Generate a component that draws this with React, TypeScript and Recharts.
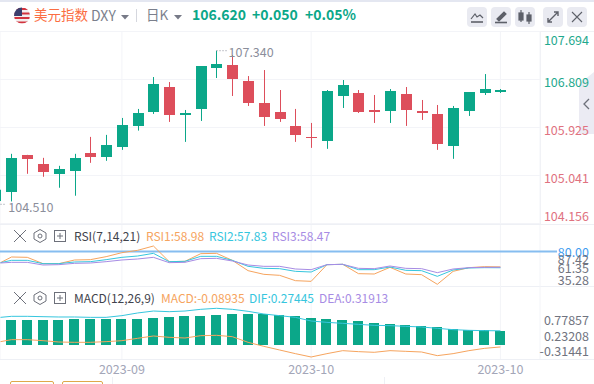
import {
  Bar,
  CartesianGrid,
  ComposedChart,
  Line,
  ReferenceDot,
  ReferenceLine,
  XAxis,
  YAxis,
} from "recharts";

const FONT = '"Noto Sans CJK SC", "Noto Sans", sans-serif';
const GREEN = "#0ba789";
const RED = "#dd4e5b";
const ORANGE = "#f6a45e";
const CYAN = "#36c6de";
const PURPLE = "#a78ce4";
const GRID = "#f3f4f8";

// first row is the candle cut off by the left edge, only its wick shows
const candleX = [-0.697, 0, 1, 2, 3, 4, 5, 6, 7, 8, 9, 10, 11, 12, 13, 14, 15, 16, 17, 18, 19, 20, 21, 22, 23, 24, 25, 26, 27, 28, 29, 30, 31];
const opens = [104.778, 104.728, 105.421, 105.256, 105.072, 105.127, 105.458, 105.385, 105.568, 105.954, 106.212, 106.671, 106.157, 106.267, 107.02, 107.076, 106.781, 106.377, 106.212, 105.954, 105.752, 105.679, 106.506, 106.561, 106.248, 106.23, 106.542, 106.23, 106.175, 105.587, 106.23, 106.561, 106.57];
const closes = [104.778, 105.366, 105.348, 105.109, 105.164, 105.366, 105.385, 105.605, 105.973, 106.193, 106.726, 106.157, 106.193, 107.057, 107.094, 106.818, 106.377, 106.12, 106.083, 105.789, 105.734, 106.598, 106.708, 106.212, 106.212, 106.598, 106.248, 106.193, 105.623, 106.285, 106.579, 106.634, 106.62];
const highs = [104.778, 105.44, 105.421, 105.366, 105.219, 105.44, 105.752, 105.789, 106.101, 106.267, 106.855, 106.763, 106.248, 107.057, 107.34, 107.259, 106.873, 106.984, 106.616, 106.267, 106.009, 106.616, 106.8, 106.616, 106.524, 106.634, 106.671, 106.432, 106.34, 106.322, 106.579, 106.91, 106.634];
const lows = [104.57, 104.563, 105.072, 105.017, 104.815, 104.668, 105.274, 105.311, 105.513, 105.868, 106.175, 106.028, 105.66, 106.046, 106.837, 106.506, 106.322, 105.954, 106.028, 105.66, 105.55, 105.532, 106.285, 106.193, 106.009, 106.009, 105.954, 106.065, 105.513, 105.348, 106.138, 106.524, 106.561];

const rsi1 = [64.74, 72.45, 72.0, 63.38, 63.38, 68.37, 68.82, 72.9, 78.35, 81.53, 87.42, 66.1, 66.56, 76.99, 77.44, 67.91, 53.85, 48.86, 47.5, 40.24, 39.33, 62.02, 62.47, 49.77, 49.31, 58.39, 49.31, 48.4, 35.28, 52.94, 57.93, 59.3, 58.98];
const rsi2 = [64.74, 67.91, 67.91, 63.38, 63.38, 65.65, 66.1, 68.82, 72.0, 73.81, 77.44, 66.1, 66.56, 73.36, 73.36, 67.91, 59.75, 57.03, 56.57, 52.94, 52.03, 62.02, 62.47, 55.21, 55.21, 58.84, 54.31, 53.85, 46.14, 54.76, 57.48, 57.93, 57.83];
const rsi3 = [64.28, 65.19, 65.19, 61.56, 62.02, 63.83, 64.28, 66.1, 68.37, 69.73, 72.0, 64.74, 65.19, 70.18, 70.64, 67.01, 61.56, 59.75, 59.75, 56.12, 55.21, 62.02, 62.47, 57.03, 56.57, 60.2, 57.03, 56.57, 51.13, 56.12, 57.93, 58.39, 58.47];

const macdBars = [null, 0.516, 0.516, 0.516, 0.516, 0.538, 0.538, 0.538, 0.538, 0.538, 0.561, 0.583, 0.605, 0.605, 0.628, 0.65, 0.65, 0.65, 0.628, 0.605, 0.561, 0.538, 0.516, 0.493, 0.448, 0.426, 0.404, 0.381, 0.359, 0.314, 0.291, 0.291, 0.269];
const macdBase = -0.045;
const dif = [0.575, 0.598, 0.598, 0.59, 0.583, 0.583, 0.575, 0.575, 0.613, 0.673, 0.717, 0.702, 0.717, 0.755, 0.778, 0.755, 0.71, 0.65, 0.613, 0.575, 0.493, 0.463, 0.441, 0.418, 0.396, 0.389, 0.374, 0.359, 0.329, 0.299, 0.284, 0.276, 0.274];
const macdLine = [0.03, 0.075, 0.075, 0.052, 0.022, 0.015, 0.015, 0.03, 0.052, 0.105, 0.157, 0.127, 0.112, 0.164, 0.172, 0.142, 0.015, -0.075, -0.157, -0.239, -0.314, -0.239, -0.172, -0.194, -0.209, -0.172, -0.187, -0.202, -0.284, -0.239, -0.172, -0.12, -0.089];

const dateTicks = [7, 19, 31];
const dateLabels = ["2023-09", "2023-10", "2023-10"];
const priceTicks = [107.694, 106.809, 105.925, 105.041, 104.156];
const rsiTicks = [80, 87.42, 61.35, 35.28];
const macdTicks = [0.77857, 0.23208, -0.31441];

const xDomain = [-0.729, 33.51];
const priceDomain = [104.156, 107.694];
const rsiDomain = [32.98, 116];
const macdDomain = [-0.359, 1.278];

const candles = candleX.map((x, i) => ({
  x,
  open: opens[i],
  close: closes[i],
  range: [lows[i], highs[i]],
}));
const rsiRows = candleX.map((x, i) => ({ x, r1: rsi1[i], r2: rsi2[i], r3: rsi3[i] }));
const macdRows = candleX.map((x, i) => ({
  x,
  dif: dif[i],
  macd: macdLine[i],
  bar: macdBars[i] == null ? null : [macdBase, macdBars[i]],
}));

function CandleShape(props: any) {
  const { x, y, width, height, payload } = props;
  const [low, high] = payload.range;
  const toY = (v: number) => y + ((high - v) / (high - low)) * height;
  const up = payload.close >= payload.open;
  const color = up ? GREEN : RED;
  const center = x + width / 2;
  const top = Math.round(toY(Math.max(payload.open, payload.close)));
  const bottom = Math.round(toY(Math.min(payload.open, payload.close)));
  return (
    <g>
      <rect x={Math.floor(center)} y={y} width={1} height={height} fill={color} />
      {payload.open !== payload.close && (
        <rect x={Math.round(center - 5.5)} y={top} width={11} height={Math.max(1, bottom - top)} fill={color} />
      )}
    </g>
  );
}

function MacdBarShape(props: any) {
  const { x, y, width, height } = props;
  if (!height) return null;
  return (
    <rect
      x={Math.round(x + width / 2 - 5)}
      y={Math.round(y)}
      width={10}
      height={Math.round(y + height) - Math.round(y)}
      fill={GREEN}
    />
  );
}

// axis labels sit away from their true level in the original, so each tick carries a nudge
const makeTick = (ticks: number[], shifts: number[], colors: string[], digits: number) =>
  function AxisTick(props: any) {
    const i = ticks.indexOf(props.payload.value);
    return (
      <text
        x={589}
        y={props.y + shifts[i]}
        textAnchor="end"
        dominantBaseline="central"
        fontSize={12.5}
        fontFamily={FONT}
        fill={colors[i]}
      >
        {props.payload.value.toFixed(digits)}
      </text>
    );
  };

const PriceTick = makeTick(priceTicks, [8, 1.5, 1.8, 2, -8.5], ["#1fa98e", "#1fa98e", "#e0727f", "#e0727f", "#e0727f"], 3);
const RsiTick = makeTick(rsiTicks, [0, 13, 2.5, -5], ["#3f9df0", "#71747f", "#71747f", "#71747f"], 2);
const MacdTick = makeTick(macdTicks, [11.7, 3.1, -6.3], ["#71747f", "#71747f", "#71747f"], 5);

function DateTick(props: any) {
  const i = dateTicks.indexOf(props.payload.value);
  return (
    <text x={props.x} y={82} textAnchor="middle" dominantBaseline="central" fontSize={12.5} fontFamily={FONT} fill="#a3a6b8">
      {dateLabels[i]}
    </text>
  );
}

const extremeLabel = (text: string, dx: number, dy: number) =>
  function ExtremeLabel(props: any) {
    const { x, y } = props.viewBox;
    return (
      <text x={x + dx} y={y + dy} dominantBaseline="central" fontSize={12.5} fontFamily={FONT} fill="#8b8e9b">
        {text}
      </text>
    );
  };

function Txt({ x, y, color, size = 12, weight = 400, children }: any) {
  return (
    <div
      style={{
        position: "absolute",
        left: x,
        top: y - 10,
        height: 20,
        lineHeight: "20px",
        fontSize: size,
        fontWeight: weight,
        color,
        whiteSpace: "nowrap",
      }}
    >
      {children}
    </div>
  );
}

function Rule({ y, color = "#eef0f5" }: { y: number; color?: string }) {
  return <div style={{ position: "absolute", left: 0, top: y, width: 594, height: 1, background: color }} />;
}

function Caret({ x, y }: { x: number; y: number }) {
  return (
    <svg style={{ position: "absolute", left: x, top: y }} width={8} height={5}>
      <path d="M0 0H8L4 4.5Z" fill="#777a87" />
    </svg>
  );
}

function Flag() {
  return (
    <svg style={{ position: "absolute", left: 14, top: 7 }} width={16} height={17} viewBox="0 0 16 17">
      <defs>
        <clipPath id="flag">
          <circle cx={8} cy={8.5} r={8} />
        </clipPath>
      </defs>
      <g clipPath="url(#flag)">
        <rect width={16} height={17} fill="#f3eeee" />
        {[0, 4.5, 9, 13.5].map((y) => (
          <rect key={y} y={y + 1} width={16} height={2} fill="#d2343f" />
        ))}
        <rect width={8} height={9} fill="#3b3f6e" />
      </g>
    </svg>
  );
}

function ToolIcon({ x, kind }: { x: number; kind: string }) {
  return (
    <div style={{ position: "absolute", left: x, top: 7, width: 20, height: 20, borderRadius: 4, background: "#e9eaf1" }}>
      <svg width={20} height={20} fill="none" stroke="#5d6069" strokeWidth={1.2}>
        {kind === "line" && (
          <>
            <path d="M4 12L8 7L10 10L13 8L16 11" />
            <path d="M4 15H16" strokeWidth={1.6} />
          </>
        )}
        {kind === "pen" && (
          <>
            <path d="M6 12L13 5L15 7L8 14Z" fill="#5d6069" />
            <path d="M4 15.5H16" strokeWidth={1.6} />
          </>
        )}
        {kind === "candle" && (
          <>
            <rect x={4} y={6} width={4} height={7} fill="#5d6069" />
            <path d="M6 3V15" />
            <rect x={12} y={8} width={4} height={6} fill="#5d6069" />
            <path d="M14 5V17" />
          </>
        )}
        {kind === "expand" && (
          <path d="M5 15L15 5M11 5H15V9M5 11V15H9" strokeWidth={1.4} />
        )}
        {kind === "close" && <path d="M5 5L15 15M15 5L5 15" strokeWidth={1.1} />}
      </svg>
    </div>
  );
}

function PanelIcons({ y }: { y: number }) {
  return (
    <svg style={{ position: "absolute", left: 12, top: y - 8 }} width={56} height={16} fill="none" stroke="#6d707a" strokeWidth={1}>
      <path d="M2 2L14 14M14 2L2 14" />
      <path d="M28 1.5L34 5V11L28 14.5L22 11V5Z" />
      <circle cx={28} cy={8} r={2} />
      <rect x={42.5} y={2.5} width={11} height={11} />
      <path d="M48 5V11M45 8H51" />
    </svg>
  );
}

export default function App() {
  return (
    <div style={{ position: "absolute", left: 0, top: 0, width: 594, height: 384, overflow: "hidden", background: "#fff", fontFamily: FONT }}>
      <div style={{ position: "absolute", left: 0, top: 0, width: 594, height: 2, background: "#e4e7f1" }} />
      <Rule y={31} color="#f0f1f5" />
      <Rule y={224} />
      <Rule y={286} />
      <Rule y={359} />
      <div style={{ position: "absolute", left: 540, top: 32, width: 1, height: 192, background: "#eef0f5" }} />
      <svg style={{ position: "absolute", left: 579, top: 72 }} width={15} height={63}>
        <path d="M0 12L15 0V62H0Z" fill="#ebebf3" />
        <path d="M10 27L5 32L10 37" fill="none" stroke="#6d707a" strokeWidth={1.3} />
      </svg>

      <div style={{ position: "absolute", left: 0, top: 0 }}>
        <ComposedChart width={594} height={224} data={candles} margin={{ top: 31.5, right: 0, bottom: 0.5, left: 0 }}>
          <CartesianGrid stroke={GRID} />
          <XAxis dataKey="x" type="number" domain={xDomain} ticks={dateTicks} hide />
          <YAxis orientation="right" width={54} domain={priceDomain} ticks={priceTicks} interval={0} axisLine={false} tickLine={false} tick={PriceTick} />
          <Bar dataKey="range" barSize={11} isAnimationActive={false} shape={CandleShape} />
          <ReferenceLine segment={[{ x: 13, y: 107.34 }, { x: 13.7, y: 107.34 }]} stroke="#8b8e9b" strokeDasharray="1 2" />
          <ReferenceDot x={13.7} y={107.34} r={0} label={extremeLabel("107.340", 1, 0.5)} />
          <ReferenceLine segment={[{ x: -0.697, y: 104.51 }, { x: -0.33, y: 104.51 }]} stroke="#8b8e9b" strokeDasharray="1 2" />
          <ReferenceDot x={-0.33} y={104.51} r={0} label={extremeLabel("104.510", 2, 2)} />
        </ComposedChart>
      </div>

      <div style={{ position: "absolute", left: 0, top: 224 }}>
        <ComposedChart width={594} height={72} data={rsiRows} margin={{ top: 1, right: 0, bottom: 10, left: 0 }}>
          <CartesianGrid stroke={GRID} horizontal={false} />
          <XAxis dataKey="x" type="number" domain={xDomain} ticks={dateTicks} hide />
          <YAxis orientation="right" width={54} domain={rsiDomain} ticks={rsiTicks} interval={0} axisLine={false} tickLine={false} tick={RsiTick} />
          <ReferenceLine segment={[{ x: -0.729, y: 80 }, { x: 34.59, y: 80 }]} stroke="#86bdf0" strokeWidth={2} ifOverflow="visible" />
          <Line dataKey="r1" stroke={ORANGE} strokeWidth={1} dot={false} isAnimationActive={false} />
          <Line dataKey="r2" stroke={CYAN} strokeWidth={1} dot={false} isAnimationActive={false} />
          <Line dataKey="r3" stroke={PURPLE} strokeWidth={1} dot={false} isAnimationActive={false} />
        </ComposedChart>
      </div>

      <div style={{ position: "absolute", left: 0, top: 286 }}>
        <ComposedChart width={594} height={98} data={macdRows} margin={{ top: 0, right: 0, bottom: 0, left: 0 }}>
          <CartesianGrid stroke={GRID} horizontal={false} />
          <XAxis dataKey="x" type="number" domain={xDomain} ticks={dateTicks} height={25} axisLine={false} tickLine={false} tick={DateTick} interval={0} />
          <YAxis orientation="right" width={54} domain={macdDomain} ticks={macdTicks} interval={0} axisLine={false} tickLine={false} tick={MacdTick} />
          <Line dataKey="dif" stroke={CYAN} strokeWidth={1} dot={false} isAnimationActive={false} />
          <Line dataKey="macd" stroke={ORANGE} strokeWidth={1} dot={false} isAnimationActive={false} />
          <Bar dataKey="bar" barSize={10} isAnimationActive={false} shape={MacdBarShape} />
        </ComposedChart>
      </div>

      <Flag />
      <Txt x={34} y={14} color="#fb6d42" size={13.5}>美元指数</Txt>
      <Txt x={91} y={15} color="#7b7f8c" size={14}>DXY</Txt>
      <Caret x={121} y={15} />
      <div style={{ position: "absolute", left: 136, top: 9, width: 1, height: 13, background: "#d5d7de" }} />
      <Txt x={146} y={14} color="#7b7f8c" size={13.5}>日K</Txt>
      <Caret x={174} y={15} />
      <Txt x={192} y={14} color={GREEN} size={14} weight={700}>106.620</Txt>
      <Txt x={252} y={14} color={GREEN} size={14} weight={700}>+0.050</Txt>
      <Txt x={305} y={14} color={GREEN} size={14} weight={700}>+0.05%</Txt>
      <ToolIcon x={467} kind="line" />
      <ToolIcon x={491} kind="pen" />
      <ToolIcon x={515} kind="candle" />
      <ToolIcon x={543} kind="expand" />
      <ToolIcon x={567} kind="close" />

      <PanelIcons y={236} />
      <Txt x={74} y={236} color="#41434c">RSI(7,14,21)</Txt>
      <Txt x={146} y={236} color={ORANGE}>RSI1:58.98</Txt>
      <Txt x={209} y={236} color={CYAN}>RSI2:57.83</Txt>
      <Txt x={272} y={236} color={PURPLE}>RSI3:58.47</Txt>

      <PanelIcons y={298} />
      <Txt x={74} y={298} color="#41434c">MACD(12,26,9)</Txt>
      <Txt x={161} y={298} color={ORANGE}>MACD:-0.08935</Txt>
      <Txt x={249} y={298} color={CYAN}>DIF:0.27445</Txt>
      <Txt x={319} y={298} color={PURPLE}>DEA:0.31913</Txt>

      <div style={{ position: "absolute", left: 10, top: 381, width: 42, height: 8, border: "1px solid #dfa84a", borderRadius: 2 }} />
      <div style={{ position: "absolute", left: 62, top: 381, width: 39, height: 8, border: "1px solid #dfa84a", borderRadius: 2 }} />
      <div style={{ position: "absolute", left: 112, top: 377, width: 1, height: 8, background: "#eef0f5" }} />
      <div style={{ position: "absolute", left: 384, top: 377, width: 1, height: 8, background: "#eef0f5" }} />
    </div>
  );
}
